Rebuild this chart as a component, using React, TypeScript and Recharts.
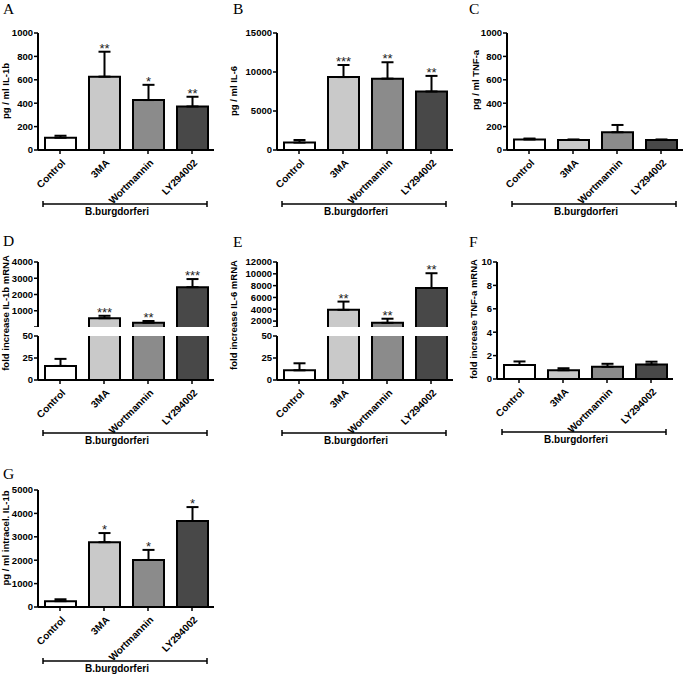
import React from "react";
import { BarChart, Bar, XAxis, YAxis, ErrorBar, LabelList } from "recharts";

const FONT = "'Liberation Sans', Arial, sans-serif";
const SERIF = "'Liberation Serif', 'Times New Roman', serif";

const groups = ["Control", "3MA", "Wortmannin", "LY294002"];
const groupFills = ["#ffffff", "#c9c9c9", "#8b8b8b", "#484848"];
const treatment = "B.burgdorferi";

// A - secreted IL-1b
const il1bMean = [105, 627, 427, 372];
const il1bErr = [17, 213, 130, 83];
const il1bStars = ["", "**", "*", "**"];
const il1bTicks = [0, 200, 400, 600, 800, 1000];

// B - secreted IL-6
const il6Mean = [950, 9350, 9150, 7500];
const il6Err = [330, 1550, 2100, 2000];
const il6Stars = ["", "***", "**", "**"];
const il6Ticks = [0, 5000, 10000, 15000];

// C - secreted TNF-a
const tnfMean = [90, 86, 152, 86];
const tnfErr = [8, 4, 62, 4];
const tnfStars = ["", "", "", ""];
const tnfTicks = [0, 200, 400, 600, 800, 1000];

// D - IL-1b mRNA (broken axis)
const il1bMrnaMean = [16, 540, 260, 2450];
const il1bMrnaErr = [8, 150, 110, 500];
const il1bMrnaStars = ["", "***", "**", "***"];
const il1bMrnaUpperTicks = [0, 1000, 2000, 3000, 4000];

// E - IL-6 mRNA (broken axis)
const il6MrnaMean = [11, 3900, 1700, 7600];
const il6MrnaErr = [8, 1400, 700, 2500];
const il6MrnaStars = ["", "**", "**", "**"];
const il6MrnaUpperTicks = [1000, 2000, 4000, 6000, 8000, 10000, 12000];

const lowerTicks = [0, 25, 50];

// F - TNF-a mRNA
const tnfMrnaMean = [1.2, 0.75, 1.05, 1.25];
const tnfMrnaErr = [0.3, 0.17, 0.25, 0.23];
const tnfMrnaStars = ["", "", "", ""];
const tnfMrnaTicks = [0, 2, 4, 6, 8, 10];

// G - intracellular IL-1b
const intraMean = [250, 2770, 2010, 3675];
const intraErr = [80, 390, 430, 595];
const intraStars = ["", "*", "*", "*"];
const intraTicks = [0, 1000, 2000, 3000, 4000, 5000];

type Row = {
  name: string;
  value: number;
  hi: number;
  err: number[] | null;
  star: string;
  fill: string;
  cutTop: boolean;
  cutBottom: boolean;
};

function BarShape(props: any) {
  const { x, y, width, height, payload, background } = props;
  if (!(height > 0.5)) return null;
  let y0 = y;
  let y1 = y + height;
  if (background && typeof background.y === "number") {
    y0 = Math.max(y0, background.y);
    y1 = Math.min(y1, background.y + background.height);
  }
  const l = x;
  const r = x + width;
  let d = `M${l},${y0}L${r},${y0}L${r},${y1}L${l},${y1}Z`;
  if (payload.cutTop) d = `M${l},${y0}L${l},${y1}L${r},${y1}L${r},${y0}`;
  if (payload.cutBottom) d = `M${l},${y1}L${l},${y0}L${r},${y0}L${r},${y1}`;
  return (
    <g>
      <rect x={l} y={y0} width={width} height={Math.max(0, y1 - y0)} fill={payload.fill} />
      <path d={d} fill="none" stroke="#000" strokeWidth={2} />
    </g>
  );
}

function XTick(props: any) {
  const { x, y, payload } = props;
  return (
    <text
      transform={`translate(${x + 6},${y + 7.5}) rotate(-45)`}
      textAnchor="end"
      fontSize={10}
      fontWeight="bold"
      fontFamily={FONT}
      fill="#000"
    >
      {payload.value}
    </text>
  );
}

function ChartBlock({
  rows,
  axisX,
  top,
  bottom,
  domain,
  ticks,
  showX,
  hideMin,
}: {
  rows: Row[];
  axisX: number;
  top: number;
  bottom: number;
  domain: [number, number];
  ticks: number[];
  showX: boolean;
  hideMin?: boolean;
}) {
  const mTop = 14;
  const xh = showX ? 64 : 0;
  const h = mTop + (bottom - top) + xh;
  const w = 40 + 176 + 6;
  const starLabel = (p: any) => {
    const row = rows[p.index];
    if (!row || !row.star) return null;
    const vb = p.viewBox && typeof p.viewBox.y === "number" ? p.viewBox : p;
    const ppu = vb.height / (row.value - domain[0]);
    const errTop = vb.y - row.hi * ppu;
    return (
      <text
        x={vb.x + vb.width / 2}
        y={errTop + 1}
        textAnchor="middle"
        fontSize={13}
        fontFamily={FONT}
        fill="#222"
      >
        {row.star}
      </text>
    );
  };
  return (
    <div style={{ position: "absolute", left: axisX - 40, top: top - mTop }}>
      <BarChart
        width={w}
        height={h}
        data={rows}
        margin={{ top: mTop, right: 6, left: 0, bottom: 0 }}
        barSize={31}
      >
        <XAxis
          dataKey="name"
          hide={!showX}
          height={xh}
          interval={0}
          axisLine={{ stroke: "#000", strokeWidth: 2 }}
          tickLine={{ stroke: "#000", strokeWidth: 1.5 }}
          tickSize={4}
          tickMargin={2}
          tick={<XTick />}
        />
        <YAxis
          type="number"
          width={40}
          domain={domain}
          ticks={ticks}
          allowDataOverflow
          interval={0}
          axisLine={{ stroke: "#000", strokeWidth: 2 }}
          tickLine={{ stroke: "#000", strokeWidth: 1.5 }}
          tickSize={4}
          tickMargin={1}
          tickFormatter={(v: number) => (hideMin && v === domain[0] ? "" : String(v))}
          tick={{ fontSize: 9.5, fontWeight: 700, fill: "#000", fontFamily: FONT }}
        />
        <Bar dataKey="value" isAnimationActive={false} shape={<BarShape />}>
          <ErrorBar dataKey="err" width={6} strokeWidth={2} stroke="#000" direction="y" />
          <LabelList dataKey="star" content={starLabel} />
        </Bar>
      </BarChart>
    </div>
  );
}

function simpleRows(mean: number[], err: number[], stars: string[]): Row[] {
  return groups.map((g, i) => ({
    name: g,
    value: mean[i],
    hi: err[i],
    err: [0, err[i]],
    star: stars[i],
    fill: groupFills[i],
    cutTop: false,
    cutBottom: false,
  }));
}

function SimplePanel(props: {
  axisX: number;
  top: number;
  bottom: number;
  max: number;
  ticks: number[];
  mean: number[];
  err: number[];
  stars: string[];
}) {
  const rows = simpleRows(props.mean, props.err, props.stars);
  return (
    <ChartBlock
      rows={rows}
      axisX={props.axisX}
      top={props.top}
      bottom={props.bottom}
      domain={[0, props.max]}
      ticks={props.ticks}
      showX
    />
  );
}

function BrokenPanel(props: {
  axisX: number;
  upperMin: number;
  upperMax: number;
  upperTicks: number[];
  mean: number[];
  err: number[];
  stars: string[];
}) {
  const lowerMax = 50;
  const upper: Row[] = groups.map((g, i) => {
    const big = props.mean[i] > lowerMax;
    return {
      name: g,
      value: big ? props.mean[i] : props.upperMin,
      hi: big ? props.err[i] : 0,
      err: big ? [0, props.err[i]] : null,
      star: big ? props.stars[i] : "",
      fill: groupFills[i],
      cutTop: false,
      cutBottom: true,
    };
  });
  const lower: Row[] = groups.map((g, i) => {
    const big = props.mean[i] > lowerMax;
    return {
      name: g,
      value: props.mean[i],
      hi: big ? 0 : props.err[i],
      err: big ? null : [0, props.err[i]],
      star: big ? "" : props.stars[i],
      fill: groupFills[i],
      cutTop: big,
      cutBottom: false,
    };
  });
  return (
    <>
      <ChartBlock
        rows={upper}
        axisX={props.axisX}
        top={262}
        bottom={327}
        domain={[props.upperMin, props.upperMax]}
        ticks={props.upperTicks}
        showX={false}
        hideMin
      />
      <ChartBlock
        rows={lower}
        axisX={props.axisX}
        top={336}
        bottom={380}
        domain={[0, lowerMax]}
        ticks={lowerTicks}
        showX
      />
    </>
  );
}

const annotations = [
  { letter: "A", lx: 3, ly: 14, label: "pg / ml IL-1b", tx: 9, ty: 91, axisX: 38, by: 204 },
  { letter: "B", lx: 233, ly: 14, label: "pg / ml IL-6", tx: 237, ty: 91, axisX: 277, by: 204 },
  { letter: "C", lx: 469, ly: 14, label: "pg / ml TNF-a", tx: 479, ty: 80, axisX: 507, by: 204 },
  { letter: "D", lx: 3, ly: 246, label: "fold increase IL-1b mRNA", tx: 9, ty: 313, axisX: 38, by: 433 },
  { letter: "E", lx: 233, ly: 247, label: "fold increase IL-6 mRNA", tx: 237, ty: 315, axisX: 277, by: 433 },
  { letter: "F", lx: 469, ly: 247, label: "fold increase TNF-a mRNA", tx: 477, ty: 319, axisX: 497, by: 432 },
  { letter: "G", lx: 3, ly: 479, label: "pg / ml intracel. IL-1b", tx: 9, ty: 538, axisX: 38, by: 661 },
];

export default function App() {
  return (
    <div
      style={{
        position: "absolute",
        left: 0,
        top: 0,
        width: 683,
        height: 675,
        background: "#fff",
        overflow: "hidden",
      }}
    >
      <SimplePanel axisX={38} top={33} bottom={150} max={1000} ticks={il1bTicks} mean={il1bMean} err={il1bErr} stars={il1bStars} />
      <SimplePanel axisX={277} top={33} bottom={150} max={15000} ticks={il6Ticks} mean={il6Mean} err={il6Err} stars={il6Stars} />
      <SimplePanel axisX={507} top={33} bottom={150} max={1000} ticks={tnfTicks} mean={tnfMean} err={tnfErr} stars={tnfStars} />
      <BrokenPanel axisX={38} upperMin={0} upperMax={4000} upperTicks={il1bMrnaUpperTicks} mean={il1bMrnaMean} err={il1bMrnaErr} stars={il1bMrnaStars} />
      <BrokenPanel axisX={277} upperMin={1000} upperMax={12000} upperTicks={il6MrnaUpperTicks} mean={il6MrnaMean} err={il6MrnaErr} stars={il6MrnaStars} />
      <SimplePanel axisX={497} top={262} bottom={379} max={10} ticks={tnfMrnaTicks} mean={tnfMrnaMean} err={tnfMrnaErr} stars={tnfMrnaStars} />
      <SimplePanel axisX={38} top={490} bottom={607} max={5000} ticks={intraTicks} mean={intraMean} err={intraErr} stars={intraStars} />

      <svg
        width={683}
        height={675}
        style={{ position: "absolute", left: 0, top: 0, pointerEvents: "none" }}
      >
        {annotations.map((a) => (
          <g key={a.letter}>
            <text x={a.lx} y={a.ly} fontSize={15.5} fontFamily={SERIF} fill="#000">
              {a.letter}
            </text>
            <text
              transform={`translate(${a.tx},${a.ty}) rotate(-90)`}
              textAnchor="middle"
              fontSize={9.5}
              fontWeight="bold"
              fontFamily={FONT}
              fill="#000"
            >
              {a.label}
            </text>
            <g stroke="#000" strokeWidth={1.5}>
              <line x1={a.axisX + 5} y1={a.by} x2={a.axisX + 169} y2={a.by} />
              <line x1={a.axisX + 5} y1={a.by - 3} x2={a.axisX + 5} y2={a.by + 3} />
              <line x1={a.axisX + 169} y1={a.by - 3} x2={a.axisX + 169} y2={a.by + 3} />
            </g>
            <text
              x={a.axisX + 79}
              y={a.by + 11}
              textAnchor="middle"
              fontSize={10}
              fontWeight="bold"
              fontFamily={FONT}
              fill="#000"
            >
              {treatment}
            </text>
          </g>
        ))}
      </svg>
    </div>
  );
}
